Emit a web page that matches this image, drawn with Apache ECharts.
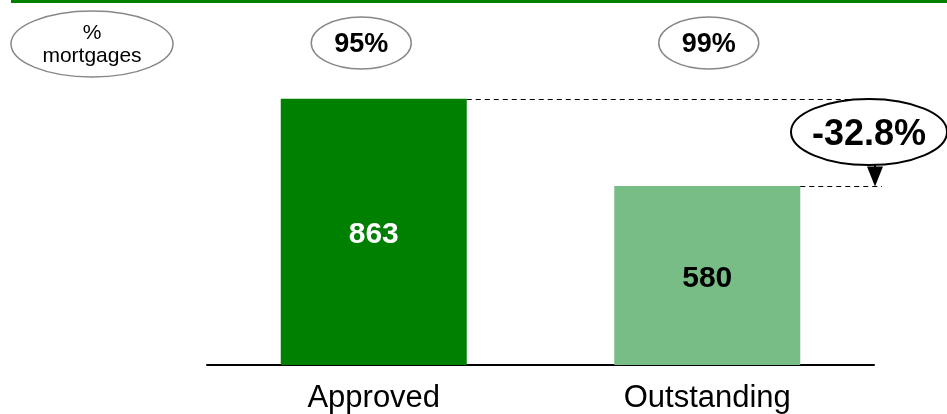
<!DOCTYPE html>
<html>
<head>
<meta charset="utf-8">
<script src="https://cdn.jsdelivr.net/npm/echarts@6/dist/echarts.min.js"></script>
<style>
  html, body { margin: 0; padding: 0; background: #fff; }
  #chart { width: 947px; height: 414px; }
</style>
</head>
<body>
<div id="chart"></div>
<script>
// Mortgage counts, approved vs. outstanding
const categories = ['Approved', 'Outstanding'];
const mortgages = [863, 580];
const mortgageShare = ['95%', '99%'];
const shareTitle = '%\nmortgages';

const FONT = '"Liberation Sans", Arial, Helvetica, sans-serif';
const DARK_GREEN = '#008000';
const LIGHT_GREEN = '#78BD86';
const BAR_WIDTH = 186;

const changePct = ((mortgages[1] / mortgages[0] - 1) * 100).toFixed(1) + '%';

const chart = echarts.init(document.getElementById('chart'), null, { renderer: 'canvas' });

chart.setOption({
  animation: false,
  backgroundColor: '#fff',
  grid: { left: 207, right: 73, top: 56.5, bottom: 49 },
  xAxis: {
    type: 'category',
    data: categories,
    axisLine: { lineStyle: { color: '#000', width: 2 } },
    axisTick: { show: false },
    axisLabel: { color: '#000', fontSize: 31, fontFamily: FONT, margin: 18 }
  },
  yAxis: {
    type: 'value',
    min: 0,
    max: 1000,
    interval: 250,
    show: false,
    splitLine: { show: false }
  },
  series: [{
    type: 'bar',
    barWidth: BAR_WIDTH,
    data: mortgages.map((v, i) => ({
      value: v,
      itemStyle: { color: i === 0 ? DARK_GREEN : LIGHT_GREEN },
      label: { color: i === 0 ? '#fff' : '#000' }
    })),
    label: {
      show: true,
      position: 'inside',
      offset: [0, 3],
      fontSize: 30,
      fontWeight: 'bold',
      fontFamily: FONT
    }
  }]
});

// Annotations placed from the chart's own scales
const px = (cat, v) => chart.convertToPixel({ xAxisIndex: 0, yAxisIndex: 0 }, [cat, v]);
const topA = px(categories[0], mortgages[0]);
const topB = px(categories[1], mortgages[1]);
const rightA = topA[0] + BAR_WIDTH / 2;
const rightB = topB[0] + BAR_WIDTH / 2;
const yA = Math.round(topA[1]) + 0.5;
const yB = Math.round(topB[1]) + 0.5;
const arrowX = 875;
const dashEnd = 882;

function bubble(cx, cy, rx, ry, text, font, stroke, lw, dy) {
  return [{
    type: 'ellipse',
    shape: { cx: cx, cy: cy, rx: rx, ry: ry },
    style: { fill: '#fff', stroke: stroke, lineWidth: lw },
    z: 10
  }, {
    type: 'text',
    style: { x: cx, y: cy + dy, text: text, font: font, fill: '#000', align: 'center', verticalAlign: 'middle', lineHeight: 23 },
    z: 11
  }];
}

const shareOffsets = [-12.5, 1.5];
const elements = [
  // header rule
  { type: 'rect', shape: { x: 11, y: 0, width: 936, height: 3 }, style: { fill: DARK_GREEN }, z: 5 },
  ...bubble(92, 44, 81, 33, shareTitle, '21px ' + FONT, '#888', 1.5, 1),
  ...mortgageShare.flatMap((s, i) => {
    const x = px(categories[i], 0)[0] + shareOffsets[i];
    return bubble(x, 43, 50, 26, s, 'bold 27px ' + FONT, '#888', 1.5, 2);
  }),
  // level guides from each bar top
  { type: 'line', shape: { x1: rightA, y1: yA, x2: dashEnd, y2: yA },
    style: { stroke: '#000', lineWidth: 1, lineDash: [5, 4] }, z: 6 },
  { type: 'line', shape: { x1: rightB, y1: yB, x2: dashEnd, y2: yB },
    style: { stroke: '#000', lineWidth: 1, lineDash: [5, 4] }, z: 6 },
  // change arrow
  { type: 'line', shape: { x1: arrowX, y1: yA, x2: arrowX, y2: yB - 18 },
    style: { stroke: '#000', lineWidth: 2 }, z: 7 },
  { type: 'polygon', shape: { points: [[arrowX - 8, yB - 20], [arrowX + 8, yB - 20], [arrowX, yB]] },
    style: { fill: '#000' }, z: 12 },
  ...bubble(869, 132, 78, 33, changePct, 'bold 36px ' + FONT, '#000', 2, 3)
];

chart.setOption({ graphic: { elements: elements } });
</script>
</body>
</html>
